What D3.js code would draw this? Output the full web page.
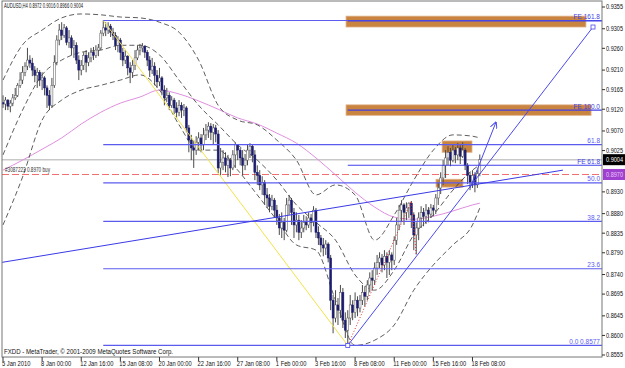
<!DOCTYPE html>
<html>
<head>
<meta charset="utf-8">
<script src="https://cdn.jsdelivr.net/npm/d3@7"></script>
<style>
body { margin: 0; background: #fff; }
svg { display: block; }
text { font-family: "Liberation Sans", Arial, sans-serif; }
</style>
</head>
<body>
<svg id="chart" width="625" height="368"></svg>
<script>
// AUDUSD H4 candles (open = previous close)
var firstOpen = 0.9135
var closes = [
  0.9132,0.9141,0.9127,0.9134,0.9146,0.9152,0.9175,0.9187,0.9205,0.9219,
  0.9233,0.9226,0.9210,0.9198,0.9205,0.9187,0.9192,0.9169,0.9152,0.9129,
  0.9175,0.9228,0.9279,0.9302,0.9290,0.9307,0.9274,0.9284,0.9261,0.9267,
  0.9233,0.9210,0.9221,0.9244,0.9228,0.9238,0.9251,0.9244,0.9256,0.9261,
  0.9295,0.9307,0.9302,0.9311,0.9297,0.9290,0.9267,0.9279,0.9251,0.9233,
  0.9242,0.9215,0.9205,0.9221,0.9238,0.9256,0.9261,0.9265,0.9251,0.9233,
  0.9210,0.9219,0.9198,0.9183,0.9192,0.9164,0.9146,0.9152,0.9129,0.9141,
  0.9123,0.9113,0.9129,0.9118,0.9123,0.9077,0.9049,0.9031,0.9026,0.9044,
  0.9054,0.9038,0.9061,0.9072,0.9081,0.9067,0.9077,0.9063,0.8985,0.8998,
  0.9008,0.8991,0.9003,0.8985,0.9015,0.9038,0.9026,0.9008,0.8991,0.9003,
  0.9026,0.9035,0.9015,0.8975,0.8968,0.8946,0.8952,0.8923,0.8916,0.8897,
  0.8911,0.8888,0.8870,0.8847,0.8860,0.8842,0.8900,0.8911,0.8883,0.8854,
  0.8865,0.8837,0.8847,0.8860,0.8854,0.8870,0.8860,0.8888,0.8837,0.8824,
  0.8808,0.8801,0.8810,0.8778,0.8681,0.8640,0.8670,0.8658,0.8699,0.8635,
  0.8612,0.8640,0.8670,0.8653,0.8681,0.8663,0.8681,0.8699,0.8690,0.8716,
  0.8732,0.8727,0.8755,0.8768,0.8778,0.8762,0.8782,0.8768,0.8785,0.8773,
  0.8819,0.8854,0.8888,0.8900,0.8883,0.8893,0.8904,0.8877,0.8831,0.8847,
  0.8870,0.8883,0.8874,0.8888,0.8879,0.8893,0.8888,0.8916,0.8939,0.8962,
  0.8991,0.9008,0.9021,0.9003,0.9026,0.9015,0.9031,0.9012,0.9026,0.8991,
  0.8968,0.8952,0.8968,0.8946,0.8972,0.9004
]
var highs = [
  0.9152,0.9148,0.9143,0.9141,0.9155,0.9169,0.9180,0.9205,0.9219,0.9228,
  0.9261,0.9244,0.9238,0.9219,0.9215,0.9210,0.9205,0.9196,0.9175,0.9164,
  0.9192,0.9244,0.9290,0.9316,0.9320,0.9316,0.9311,0.9302,0.9290,0.9279,
  0.9274,0.9244,0.9233,0.9251,0.9256,0.9251,0.9261,0.9263,0.9267,0.9270,
  0.9302,0.9324,0.9320,0.9320,0.9316,0.9307,0.9297,0.9288,0.9284,0.9261,
  0.9256,0.9244,0.9228,0.9233,0.9256,0.9267,0.9270,0.9272,0.9267,0.9256,
  0.9242,0.9238,0.9228,0.9210,0.9215,0.9196,0.9175,0.9169,0.9159,0.9150,
  0.9146,0.9136,0.9141,0.9136,0.9132,0.9127,0.9084,0.9061,0.9049,0.9058,
  0.9067,0.9063,0.9077,0.9086,0.9090,0.9088,0.9086,0.9084,0.9072,0.9031,
  0.9026,0.9021,0.9015,0.9008,0.9026,0.9044,0.9040,0.9031,0.9026,0.9017,
  0.9038,0.9042,0.9040,0.9026,0.8991,0.8980,0.8966,0.8957,0.8939,0.8925,
  0.8923,0.8916,0.8900,0.8879,0.8883,0.8870,0.8916,0.8923,0.8916,0.8893,
  0.8883,0.8877,0.8865,0.8877,0.8874,0.8883,0.8879,0.8897,0.8893,0.8851,
  0.8831,0.8824,0.8819,0.8814,0.8785,0.8693,0.8704,0.8686,0.8716,0.8709,
  0.8653,0.8658,0.8693,0.8681,0.8699,0.8690,0.8693,0.8716,0.8713,0.8727,
  0.8745,0.8750,0.8768,0.8785,0.8791,0.8787,0.8796,0.8791,0.8796,0.8791,
  0.8828,0.8870,0.8900,0.8911,0.8904,0.8906,0.8906,0.8909,0.8883,0.8860,
  0.8883,0.8897,0.8893,0.8902,0.8895,0.8902,0.8900,0.8925,0.8952,0.8975,
  0.9003,0.9026,0.9035,0.9031,0.9038,0.9033,0.9042,0.9038,0.9044,0.9031,
  0.8996,0.8975,0.8980,0.8975,0.8980,0.9016
]
var lows = [
  0.9123,0.9118,0.9118,0.9113,0.9127,0.9141,0.9148,0.9169,0.9178,0.9196,
  0.9210,0.9215,0.9196,0.9182,0.9169,0.9173,0.9164,0.9152,0.9123,0.9118,
  0.9123,0.9169,0.9221,0.9267,0.9279,0.9284,0.9267,0.9261,0.9244,0.9238,
  0.9224,0.9187,0.9198,0.9210,0.9205,0.9219,0.9228,0.9233,0.9238,0.9242,
  0.9256,0.9288,0.9288,0.9293,0.9286,0.9279,0.9256,0.9251,0.9233,0.9219,
  0.9224,0.9198,0.9180,0.9192,0.9210,0.9233,0.9244,0.9251,0.9238,0.9219,
  0.9194,0.9201,0.9175,0.9169,0.9173,0.9152,0.9129,0.9136,0.9118,0.9123,
  0.9109,0.9100,0.9104,0.9100,0.9104,0.9067,0.9021,0.9003,0.8985,0.9015,
  0.9026,0.9021,0.9026,0.9049,0.9054,0.9049,0.9038,0.9044,0.8973,0.8968,
  0.8980,0.8975,0.8964,0.8966,0.8980,0.8985,0.9003,0.8991,0.8968,0.8980,
  0.8991,0.9008,0.8998,0.8957,0.8946,0.8934,0.8923,0.8900,0.8893,0.8883,
  0.8888,0.8870,0.8854,0.8831,0.8824,0.8819,0.8837,0.8877,0.8854,0.8824,
  0.8837,0.8819,0.8824,0.8837,0.8842,0.8847,0.8837,0.8851,0.8824,0.8808,
  0.8791,0.8782,0.8785,0.8768,0.8658,0.8605,0.8630,0.8624,0.8640,0.8617,
  0.8594,0.8577,0.8624,0.8635,0.8640,0.8644,0.8653,0.8670,0.8667,0.8681,
  0.8699,0.8704,0.8716,0.8739,0.8755,0.8745,0.8750,0.8732,0.8739,0.8750,
  0.8762,0.8808,0.8842,0.8860,0.8854,0.8865,0.8870,0.8847,0.8796,0.8786,
  0.8819,0.8847,0.8851,0.8856,0.8860,0.8870,0.8874,0.8879,0.8900,0.8925,
  0.8946,0.8962,0.8991,0.8989,0.8998,0.8996,0.9003,0.8994,0.9008,0.8980,
  0.8948,0.8934,0.8939,0.8929,0.8939,0.8966
]

// indicators sampled every 8 bars
var indBars = [0,8,16,24,32,40,48,56,64,72,80,88,96,104,112,120,128,136,144,152,160,168,176,184,192,195]
var bbUpper = [0.9187,0.9268,0.9302,0.9330,0.9339,0.9337,0.9332,0.9330,0.9320,0.9297,0.9233,0.9129,0.9095,0.9084,0.9049,0.9003,0.8923,0.8946,0.8923,0.8819,0.8877,0.8957,0.9026,0.9061,0.9058,0.9054]
var bbMiddle = [0.9015,0.9118,0.9199,0.9233,0.9251,0.9256,0.9267,0.9267,0.9245,0.9187,0.9129,0.9084,0.9038,0.9003,0.8957,0.8900,0.8860,0.8819,0.8739,0.8704,0.8750,0.8831,0.8877,0.8934,0.8980,0.8992]
var bbLower = [0.8854,0.8964,0.9095,0.9141,0.9164,0.9175,0.9187,0.9199,0.9164,0.9084,0.9026,0.9026,0.8980,0.8923,0.8865,0.8808,0.8796,0.8681,0.8577,0.8589,0.8624,0.8704,0.8762,0.8808,0.8854,0.8893]
var maSlow = [0.8980,0.9003,0.9028,0.9054,0.9086,0.9113,0.9134,0.9148,0.9164,0.9155,0.9139,0.9120,0.9100,0.9086,0.9065,0.9042,0.9008,0.8969,0.8929,0.8895,0.8872,0.8867,0.8874,0.8886,0.8900,0.8904]

// axes
var dateLabels = ["5 Jan 2010","8 Jan 00:00","12 Jan 16:00","15 Jan 08:00","20 Jan 00:00","22 Jan 16:00","27 Jan 08:00","1 Feb 00:00","3 Feb 16:00","8 Feb 08:00","11 Feb 00:00","15 Feb 16:00","18 Feb 08:00"]
var dateBars = [0,16,32,48,64,80,96,112,128,144,160,176,192]
var priceTicks = [0.9355,0.9305,0.9260,0.9210,0.9165,0.9120,0.9070,0.9025,0.8930,0.8880,0.8835,0.8790,0.8740,0.8695,0.8645,0.8600,0.8555]

// drawn objects
var fiboLevels = [0, 0.236, 0.382, 0.5, 0.618, 1]
var fiboLabels = ["0.0  0.8577", "23.6", "38.2", "50.0", "61.8", ""]
var fiboHigh = [41, 0.9324], fiboLow = [141, 0.8577]
var expA = [141, 0.8577], expB = [167, 0.8909], expC = [169, 0.8786]
var expLevels = [0.618, 1, 1.618]
var expLabels = ["FE 61.8", "FE 100.0", "FE 161.8"]
var boxes = [
  [140.3, 238.4, 0.9334, 0.9309],
  [140.3, 240.5, 0.9130, 0.9106],
  [179.6, 191.8, 0.9047, 0.9021],
  [177.1, 188.1, 0.8959, 0.8941]
]
var supportLine = [[-0.4, 0.8768], [229, 0.8980]]
var channelLine = [[141, 0.8577], [241.3, 0.9309]]
var arrowLine = [[191, 0.8939], [201.6, 0.9090]]
var bidPrice = 0.9004, orderPrice = 0.8970
var orderText = "#3087223 0.8970 buy"
var title = "AUDUSD,H4  0.8972 0.9016 0.8966 0.9004"

var L = 2, R = 602, T = 1, B = 357
var svg = d3.select("#chart")

var x = d3.scaleLinear().domain([0, 195]).range([3, 479.8])
var y = d3.scaleLinear().domain([0.8555, 0.9355]).range([355, 7])

svg.append("clipPath").attr("id", "plot")
  .append("rect").attr("x", L).attr("y", T).attr("width", R - L).attr("height", B - T)

var plot = svg.append("g").attr("clip-path", "url(#plot)")

// rectangles behind the chart
plot.selectAll("rect.box").data(boxes).join("rect")
  .attr("class", "box")
  .attr("x", d => x(d[0])).attr("width", d => x(d[1]) - x(d[0]))
  .attr("y", d => y(d[2])).attr("height", d => y(d[3]) - y(d[2]))
  .attr("fill", "#c9843f").attr("stroke", "#e0b088").attr("stroke-width", 0.8)

// bid line and order line
plot.append("line").attr("x1", L).attr("x2", R).attr("y1", y(bidPrice)).attr("y2", y(bidPrice))
  .attr("stroke", "#c8c8c8").attr("stroke-width", 1.5)
plot.append("line").attr("x1", L).attr("x2", R).attr("y1", y(orderPrice)).attr("y2", y(orderPrice))
  .attr("stroke", "#f07070").attr("stroke-width", 1.2).attr("stroke-dasharray", "7,3")

// moving average and bollinger bands
var indLine = d3.line().x((d, i) => x(indBars[i])).y(d => y(d)).curve(d3.curveMonotoneX)
plot.append("path").attr("d", indLine(maSlow)).attr("fill", "none").attr("stroke", "#e08ee0").attr("stroke-width", 1)
;[bbUpper, bbMiddle, bbLower].forEach(function (band) {
  plot.append("path").attr("d", indLine(band)).attr("fill", "none")
    .attr("stroke", "#333").attr("stroke-width", 0.8).attr("stroke-dasharray", "5,3")
})

// candles
var bars = closes.map((c, i) => ({ i: i, o: i ? closes[i - 1] : firstOpen, h: highs[i], l: lows[i], c: c }))
var candle = plot.selectAll("g.candle").data(bars).join("g").attr("class", "candle")
candle.append("line")
  .attr("x1", d => x(d.i)).attr("x2", d => x(d.i))
  .attr("y1", d => y(Math.max(d.h, d.o, d.c))).attr("y2", d => y(Math.min(d.l, d.o, d.c)))
  .attr("stroke", "#4a4a4a").attr("stroke-width", 1)
candle.append("rect")
  .attr("x", d => x(d.i) - 1).attr("width", 2)
  .attr("y", d => y(Math.max(d.o, d.c)))
  .attr("height", d => Math.max(0.8, Math.abs(y(d.o) - y(d.c))))
  .attr("fill", d => d.c >= d.o ? "#fff" : "#1c1c70")
  .attr("stroke", d => d.c >= d.o ? "#555" : "#1c1c70").attr("stroke-width", 0.5)

// fibonacci retracement
var fibRange = fiboHigh[1] - fiboLow[1]
plot.append("line").attr("x1", x(fiboHigh[0])).attr("y1", y(fiboHigh[1]))
  .attr("x2", x(fiboLow[0])).attr("y2", y(fiboLow[1]))
  .attr("stroke", "#f2e24a").attr("stroke-width", 1)
fiboLevels.forEach(function (lv, k) {
  var py = y(fiboLow[1] + lv * fibRange)
  plot.append("line").attr("x1", x(fiboHigh[0])).attr("x2", R).attr("y1", py).attr("y2", py)
    .attr("stroke", "#5b5bef").attr("stroke-width", 1.2)
  if (fiboLabels[k]) svg.append("text").attr("x", 600).attr("y", py - 1.5).attr("text-anchor", "end")
    .attr("font-size", 6.5).attr("fill", "#5b5bef").text(fiboLabels[k])
})

// fibonacci expansion
var expRange = expB[1] - expA[1]
plot.append("polyline")
  .attr("points", [expA, expB, expC].map(p => x(p[0]) + "," + y(p[1])).join(" "))
  .attr("fill", "none").attr("stroke", "#e03030").attr("stroke-width", 1).attr("stroke-dasharray", "1,2")
expLevels.forEach(function (lv, k) {
  var py = y(expC[1] + lv * expRange)
  plot.append("line").attr("x1", x(expA[0])).attr("x2", R).attr("y1", py).attr("y2", py)
    .attr("stroke", "#4040e8").attr("stroke-width", 1.2)
  svg.append("text").attr("x", 600).attr("y", py - 1.5).attr("text-anchor", "end")
    .attr("font-size", 6.5).attr("fill", "#4040e8").text(expLabels[k])
})

// trend lines
function seg(p, color) {
  return plot.append("line").attr("x1", x(p[0][0])).attr("y1", y(p[0][1]))
    .attr("x2", x(p[1][0])).attr("y2", y(p[1][1])).attr("stroke", color).attr("stroke-width", 1)
}
seg(supportLine, "#3a3ae6")
seg(channelLine, "#4a4aee")
channelLine.forEach(function (p) {
  plot.append("rect").attr("x", x(p[0]) - 2).attr("y", y(p[1]) - 2).attr("width", 4).attr("height", 4)
    .attr("fill", "#fff").attr("stroke", "#4a4aee").attr("stroke-width", 0.8)
})
svg.append("defs").append("marker").attr("id", "arrow").attr("viewBox", "0 0 10 10")
  .attr("refX", 9).attr("refY", 5).attr("markerWidth", 7).attr("markerHeight", 7).attr("orient", "auto")
  .append("path").attr("d", "M0,0L10,5L0,10").attr("fill", "none").attr("stroke", "#4a4aee").attr("stroke-width", 1.4)
seg(arrowLine, "#4a4aee").attr("marker-end", "url(#arrow)")

// order label
svg.append("text").attr("x", 5).attr("y", y(orderPrice) - 2).attr("font-size", 6.5).attr("fill", "#333")
  .attr("textLength", 45).attr("lengthAdjust", "spacingAndGlyphs").text(orderText)

// frame
svg.append("rect").attr("x", L).attr("y", T).attr("width", R - L).attr("height", B - T)
  .attr("fill", "none").attr("stroke", "#777").attr("stroke-width", 1)

// price axis
var ya = svg.append("g")
ya.selectAll("line").data(priceTicks).join("line")
  .attr("x1", R).attr("x2", R + 3).attr("y1", d => y(d)).attr("y2", d => y(d)).attr("stroke", "#333")
ya.selectAll("text").data(priceTicks).join("text")
  .attr("x", 606).attr("y", d => y(d) + 2.3).attr("font-size", 6.5).attr("fill", "#111")
  .attr("textLength", 17).attr("lengthAdjust", "spacingAndGlyphs")
  .text(d => d.toFixed(4))
// bid and order tags
ya.append("rect").attr("x", 603).attr("y", y(bidPrice) - 5.5).attr("width", 22).attr("height", 11).attr("fill", "#000")
ya.append("text").attr("x", 606).attr("y", y(bidPrice) + 2.3).attr("font-size", 6.5).attr("fill", "#fff")
  .attr("textLength", 17).attr("lengthAdjust", "spacingAndGlyphs").text(bidPrice.toFixed(4))
ya.append("rect").attr("x", 603).attr("y", y(orderPrice) - 5.5).attr("width", 22).attr("height", 11).attr("fill", "#a040d0")
ya.append("text").attr("x", 606).attr("y", y(orderPrice) + 2.3).attr("font-size", 6.5).attr("fill", "#e8c8f8")
  .attr("textLength", 17).attr("lengthAdjust", "spacingAndGlyphs").text(orderPrice.toFixed(4))

// time axis
var xa = svg.append("g")
xa.selectAll("line").data(dateBars).join("line")
  .attr("x1", d => x(d)).attr("x2", d => x(d)).attr("y1", B).attr("y2", B + 4).attr("stroke", "#333")
xa.selectAll("text").data(dateBars).join("text")
  .attr("transform", d => "translate(" + (x(d) - 1) + ",366) scale(0.82,1)")
  .attr("font-size", 7).attr("fill", "#111")
  .text((d, i) => dateLabels[i])

// captions
svg.append("text").attr("x", 4).attr("y", 8).attr("font-size", 6.5).attr("fill", "#111")
  .attr("textLength", 79).attr("lengthAdjust", "spacingAndGlyphs").text(title)
svg.append("text").attr("x", 4).attr("y", 354).attr("font-size", 6.8).attr("fill", "#111")
  .attr("textLength", 169).attr("lengthAdjust", "spacingAndGlyphs")
  .text("FXDD - MetaTrader, \u00a9 2001-2009 MetaQuotes Software Corp.")
</script>
</body>
</html>
